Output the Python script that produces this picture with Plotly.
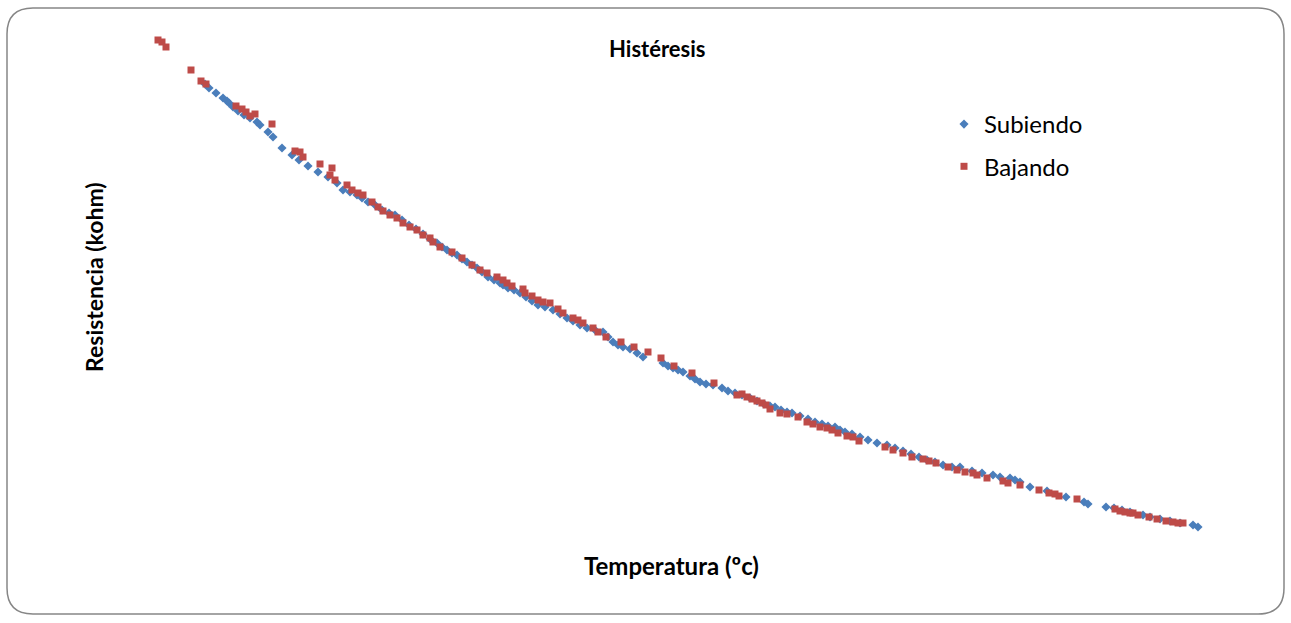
import plotly.graph_objects as go

# Readings (temperature, resistance), in chart units
sub_t = [205,209,216,223,227,229,233,238,244,250,257,260,268,273,282,292,299,308,318,328,337,343,350,357,362,368,375,382,389,395,402,409,416,423,430,437,442,447,452,457,462,467,472,477,482,488,494,500,503,508,514,520,526,532,538,545,553,560,567,573,580,587,595,603,608,613,618,623,630,637,643,663,668,673,678,683,690,695,700,706,713,722,728,735,742,750,757,764,770,775,781,787,792,800,808,815,822,828,835,840,845,852,860,868,877,887,895,903,911,919,927,935,943,952,960,972,982,993,1000,1010,1015,1020,1030,1047,1066,1084,1088,1106,1114,1122,1130,1143,1150,1160,1170,1180,1193,1198]
sub_r = [84,88,93,98,101,103,107,111,115,118,122,125,132,137,148,155,160,166,172,177,183,190,192,195,198,202,205,210,213,215,220,225,229,234,239,243,247,250,253,255,259,262,265,268,272,277,280,283,285,288,290,293,297,301,305,307,310,314,318,321,325,328,330,332,337,342,345,347,349,353,357,363,366,368,370,372,376,379,382,384,385,388,391,393,395,398,401,404,406,407,410,412,413,416,419,422,424,426,427,430,432,434,437,440,443,445,448,451,454,457,460,462,465,467,467,471,473,475,477,478,480,482,487,491,497,502,504,507,508,510,512,515,517,519,521,523,525,527]

baj_t = [158,162,166,191,201,206,236,242,246,250,255,272,295,300,303,320,332,330,335,347,352,358,363,372,378,383,390,397,403,410,417,423,430,433,440,452,462,472,480,487,497,503,507,512,523,525,532,538,543,550,558,563,573,578,583,593,598,606,621,634,648,661,674,692,714,737,742,747,752,757,762,766,770,780,787,798,807,813,820,827,832,838,847,853,859,885,893,903,912,923,929,936,948,957,965,973,977,987,1003,1008,1020,1039,1049,1055,1059,1077,1115,1120,1125,1130,1133,1138,1149,1157,1166,1173,1178,1183]
baj_r = [40,42,47,70,81,84,106,109,112,116,114,124,151,152,157,164,168,175,180,185,190,193,195,202,207,211,215,218,223,227,230,235,238,242,247,252,258,265,270,273,277,280,283,286,289,293,296,300,302,303,309,313,318,320,323,328,332,337,342,347,352,358,366,373,383,395,394,397,399,401,403,405,409,413,414,417,422,424,427,428,430,433,436,437,441,447,450,453,457,459,461,463,467,470,472,473,475,478,481,483,485,490,493,494,496,499,509,511,512,513,513,515,517,519,521,522,523,523]

W, H = 1291, 623
L, R, T, B = 150, 81, 30, 88
pw, ph = W - L - R, H - T - B

fig = go.Figure()
fig.add_trace(go.Scatter(x=sub_t, y=sub_r, mode="markers", name="Subiendo", legendgroup="a",
                         marker=dict(symbol="diamond", size=7, color="#4A7EBB")))
fig.add_trace(go.Scatter(x=baj_t, y=baj_r, mode="markers", name="Bajando", legendgroup="b",
                         marker=dict(symbol="square", size=7, color="#BE4B48")))

def px(x):
    return (x - L) / pw

def py(y):
    return (H - B - y) / ph

x0, x1, y0, y1, r = 7, 1284, 8, 614, 26
path = (f"M {px(x0+r)},{py(y0)} L {px(x1-r)},{py(y0)} Q {px(x1)},{py(y0)} {px(x1)},{py(y0+r)} "
        f"L {px(x1)},{py(y1-r)} Q {px(x1)},{py(y1)} {px(x1-r)},{py(y1)} "
        f"L {px(x0+r)},{py(y1)} Q {px(x0)},{py(y1)} {px(x0)},{py(y1-r)} "
        f"L {px(x0)},{py(y0+r)} Q {px(x0)},{py(y0)} {px(x0+r)},{py(y0)} Z")

fig.update_layout(
    width=W, height=H,
    margin=dict(l=L, r=R, t=T, b=B),
    paper_bgcolor="white", plot_bgcolor="white",
    font=dict(family="Lato, Open Sans, sans-serif", color="black"),
    showlegend=True,
    legend=dict(x=px(944), y=py(102), xanchor="left", yanchor="top",
                font=dict(size=24, family="Lato, sans-serif"), itemsizing="trace",
                traceorder="grouped", tracegroupgap=8, bgcolor="rgba(0,0,0,0)"),
    xaxis=dict(range=[150, 1210], visible=False),
    yaxis=dict(range=[535, 30], visible=False),
    shapes=[dict(type="path", xref="paper", yref="paper", path=path,
                 line=dict(color="#868686", width=1.5), layer="below")],
    annotations=[
        dict(text="<b>Histéresis</b>", x=px(657), y=py(48), xref="paper", yref="paper",
             xanchor="center", yanchor="middle", showarrow=False, font=dict(size=22)),
        dict(text="<b>Temperatura (ºc)</b>", x=px(671), y=py(565), xref="paper", yref="paper",
             xanchor="center", yanchor="middle", showarrow=False, font=dict(size=24)),
        dict(text="<b>Resistencia (kohm)</b>", x=px(94), y=py(277), xref="paper", yref="paper",
             xanchor="center", yanchor="middle", showarrow=False, textangle=-90, font=dict(size=23)),
    ],
)

fig.write_html("out.html", config={"displayModeBar": False},
               post_script="document.body.style.margin='0';")
